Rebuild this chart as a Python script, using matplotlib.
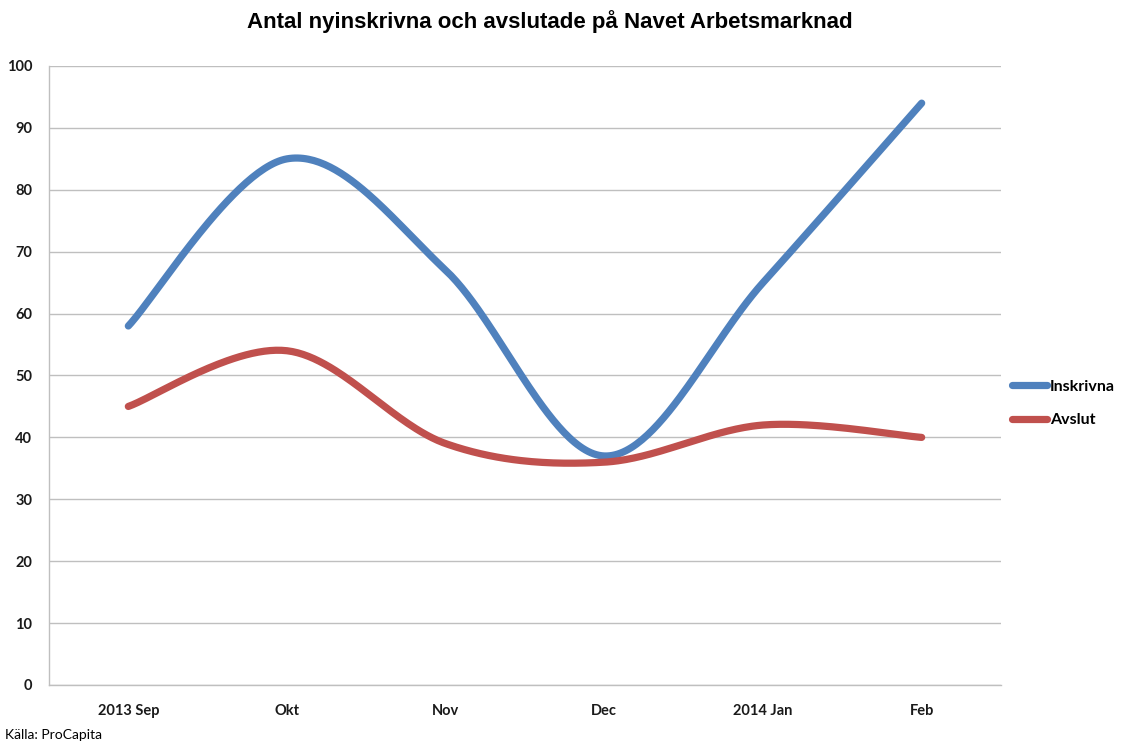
import numpy as np
import matplotlib
matplotlib.use("Agg")
import matplotlib.pyplot as plt

categories = ["2013 Sep", "Okt", "Nov", "Dec", "2014 Jan", "Feb"]
inskrivna = [58, 85, 67, 37, 65, 94]
avslut = [45, 54, 39, 36, 42, 40]
yticks = [0, 10, 20, 30, 40, 50, 60, 70, 80, 90, 100]


def smooth(y, n=60):
    y = np.asarray(y, dtype=float)
    x = np.arange(len(y), dtype=float)
    P = np.column_stack([x, y])
    ext = np.vstack([P[0], P, P[-1]])
    out = []
    for i in range(len(P) - 1):
        p0, p1, p2, p3 = ext[i], ext[i + 1], ext[i + 2], ext[i + 3]
        c1 = p1 + (p2 - p0) / 6.0
        c2 = p2 - (p3 - p1) / 6.0
        t = np.linspace(0, 1, n)[:, None]
        seg = ((1 - t) ** 3) * p1 + 3 * ((1 - t) ** 2) * t * c1 + 3 * (1 - t) * t ** 2 * c2 + t ** 3 * p2
        out.append(seg if i == 0 else seg[1:])
    out = np.vstack(out)
    return out[:, 0], out[:, 1]


fig = plt.figure(figsize=(11.21, 7.42), dpi=100)
ax = fig.add_axes([49 / 1121, 57 / 742, 952 / 1121, 619 / 742])

xs, ys = smooth(inskrivna)
ax.plot(xs, ys, color="#4F81BD", lw=5.2, solid_capstyle="round", label="Inskrivna")
xs, ys = smooth(avslut)
ax.plot(xs, ys, color="#C0504D", lw=5.2, solid_capstyle="round", label="Avslut")

ax.set_xlim(-0.5, len(categories) - 0.5)
ax.set_ylim(0, 100)
ax.set_yticks(yticks)
ax.set_xticks(range(len(categories)))
ax.set_xticklabels(categories)
ax.grid(axis="y", color="#BFBFBF", lw=1)
ax.set_axisbelow(True)
for s in ["top", "right"]:
    ax.spines[s].set_visible(False)
for s in ["left", "bottom"]:
    ax.spines[s].set_color("#BFBFBF")
    ax.spines[s].set_linewidth(1)
ax.tick_params(axis="x", length=0, pad=14)
ax.tick_params(axis="y", length=0, pad=12)
for lab in ax.get_xticklabels() + ax.get_yticklabels():
    lab.set_fontfamily("Lato")
    lab.set_fontweight("bold")
    lab.set_fontsize(10.5)
    lab.set_color("#1a1a1a")

leg = ax.legend(loc="center left", bbox_to_anchor=(1.0, 0.455), frameon=False,
                handlelength=2.2, handletextpad=0.15, labelspacing=1.2,
                borderaxespad=0.3,
                prop={"family": "Lato", "weight": "bold", "size": 11.5})

fig.text(550 / 1121, 1 - 22 / 742, "Antal nyinskrivna och avslutade på Navet Arbetsmarknad",
         ha="center", va="center", fontsize=16, fontweight="bold",
         family=["Liberation Sans", "DejaVu Sans"])
fig.text(5 / 1121, 1 - 735 / 742, "Källa: ProCapita", ha="left", va="center",
         fontsize=10, family="Lato")

fig.savefig("out.png", dpi=100)
